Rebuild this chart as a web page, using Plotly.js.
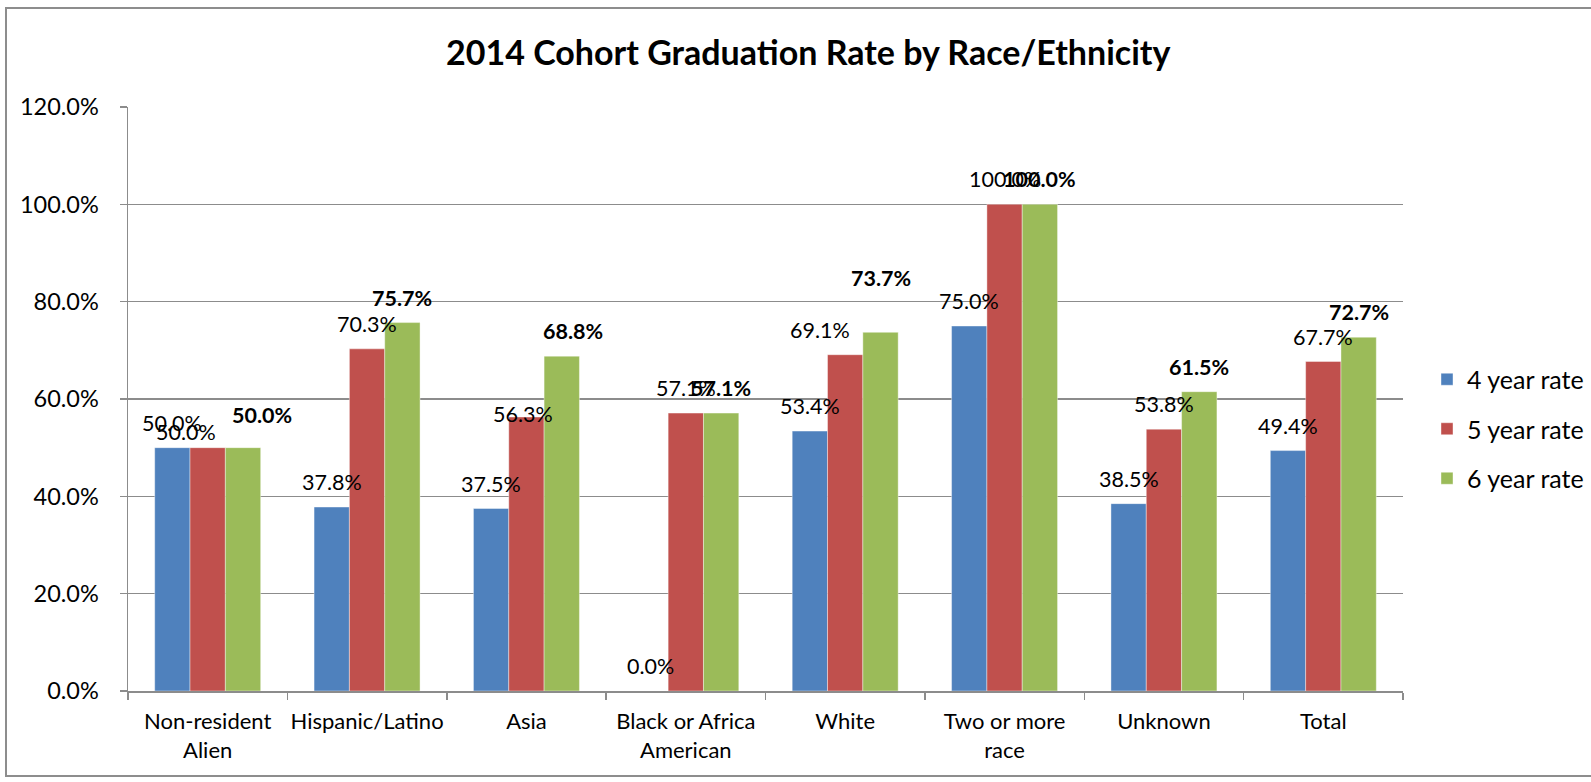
<!DOCTYPE html>
<html>
<head>
<meta charset="utf-8">
<script src="https://cdn.plot.ly/plotly-3.0.1.min.js"></script>
<style>
  html, body { margin: 0; padding: 0; background: #ffffff; overflow: hidden; }
  #chart { width: 1591px; height: 782px; position: relative; }
  #frame { position: absolute; left: 5px; top: 7px; width: 1620px; height: 770px;
           border: 2px solid #8d8d8d; pointer-events: none; box-sizing: border-box; }
</style>
</head>
<body>
<div id="chart"></div>
<div id="frame"></div>
<script>
// ---- data ----
const categories = ['Non-resident<br>Alien', 'Hispanic/Latino', 'Asia', 'Black or Africa<br>American',
                    'White', 'Two or more<br>race', 'Unknown', 'Total'];
const rate4 = [50.0, 37.8, 37.5, 0.0, 53.4, 75.0, 38.5, 49.4];
const rate5 = [50.0, 70.3, 56.3, 57.1, 69.1, 100.0, 53.8, 67.7];
const rate6 = [50.0, 75.7, 68.8, 57.1, 73.7, 100.0, 61.5, 72.7];
const seriesNames = ['4 year rate', '5 year rate', '6 year rate'];
const yTicks = [0, 20, 40, 60, 80, 100, 120];

// ---- styling / layout ----
const colors = ['#4F81BD', '#C0504D', '#9BBB59'];
const FONT = 'Lato, "Open Sans", sans-serif';
const W = 1591, H = 782;
const M = {l: 128, r: 188, t: 107, b: 91};
const bargap = 0.335;
// label nudges in px [seriesIndex, categoryIndex, dx, dy(down positive)] - mimic hand-moved labels
const labelNudges = [
  [1, 0, -22, 9], [2, 0, 19, -8],
  [1, 2, -3, 22], [2, 2, 11, 0],
  [1, 4, -25, 0], [2, 4, 0, -29]
];

const allSeries = [rate4, rate5, rate6];
const traces = allSeries.map((vals, s) => ({
  type: 'bar',
  name: seriesNames[s],
  x: categories,
  y: vals,
  marker: {color: colors[s], line: {color: 'rgba(255,255,255,0.5)', width: 0.8}},
  legendgroup: 'g' + s,
  hoverinfo: 'none'
}));

const plotW = W - M.l - M.r;
const catW = plotW / categories.length;
const barW = catW * (1 - bargap) / allSeries.length;

const annotations = [];
allSeries.forEach((vals, s) => {
  vals.forEach((v, i) => {
    let dx = 0, dy = 0;
    labelNudges.forEach(n => { if (n[0] === s && n[1] === i) { dx = n[2]; dy = n[3]; } });
    const txt = v.toFixed(1) + '%';
    annotations.push({
      x: categories[i], y: v, xref: 'x', yref: 'y',
      text: s === 2 ? '<b>' + txt + '</b>' : txt,
      showarrow: false,
      xanchor: 'center', yanchor: 'middle',
      xshift: (s - 1) * barW + dx,
      yshift: 25 - dy,
      font: {family: FONT, size: 21.5, color: '#000000'}
    });
  });
});

const layout = {
  width: W, height: H,
  margin: M,
  paper_bgcolor: '#ffffff', plot_bgcolor: '#ffffff',
  barmode: 'group', bargap: bargap, bargroupgap: 0,
  title: {
    text: '<b>2014 Cohort Graduation Rate by Race/Ethnicity</b>',
    font: {family: FONT, size: 34, color: '#000000'},
    xref: 'container', yref: 'container',
    x: 0.508, xanchor: 'center', y: 1 - 53 / H, yanchor: 'middle'
  },
  xaxis: {
    type: 'category',
    automargin: false,
    tickangle: 0,
    showline: true, linecolor: '#8c8c8c', linewidth: 1.5,
    ticks: 'outside', tickson: 'boundaries', ticklen: 7, tickcolor: '#8c8c8c', tickwidth: 1.5,
    showgrid: false,
    tickfont: {family: FONT, size: 22, color: '#000000'},
    ticklabelstandoff: 10,
    fixedrange: true
  },
  yaxis: {
    automargin: false,
    range: [0, 120],
    tickvals: yTicks,
    ticktext: yTicks.map(v => v.toFixed(1) + '%'),
    showline: true, linecolor: '#8c8c8c', linewidth: 1.5,
    ticks: 'outside', ticklen: 7, tickcolor: '#8c8c8c', tickwidth: 1.5,
    showgrid: true, gridcolor: '#8c8c8c', gridwidth: 1.5,
    zeroline: false,
    tickfont: {family: FONT, size: 23.5, color: '#000000'},
    ticklabelstandoff: 16,
    fixedrange: true
  },
  legend: {
    xref: 'container', yref: 'container',
    x: 1427 / W, xanchor: 'left',
    y: 1 - 429 / H, yanchor: 'middle',
    font: {family: FONT, size: 25, color: '#000000'},
    traceorder: 'grouped', tracegroupgap: 14,
    bgcolor: 'rgba(0,0,0,0)', itemwidth: 30
  },
  showlegend: true,
  annotations: annotations
};

Plotly.newPlot('chart', traces, layout, {displayModeBar: false, staticPlot: true});
</script>
</body>
</html>
